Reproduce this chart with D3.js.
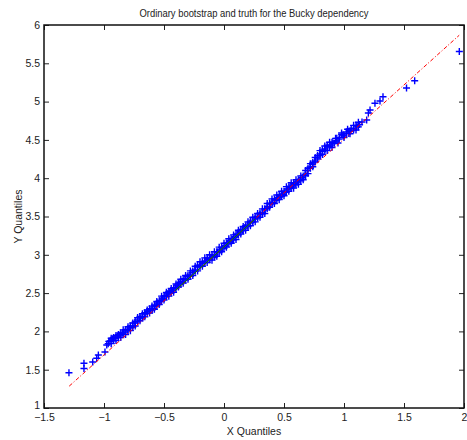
<!DOCTYPE html>
<html>
<head>
<meta charset="utf-8">
<script src="https://cdn.jsdelivr.net/npm/d3@7"></script>
<style>
body { margin: 0; background: #fff; }
text { font-family: "Liberation Sans", Arial, sans-serif; fill: #222; }
</style>
</head>
<body>
<svg id="chart" width="467" height="440"></svg>
<script>
//params
var W = 467;
var H = 440;
var LEFT = 44, RIGHT = 464, TOP = 25, BOTTOM = 408;
var TICK_LEN = 5;
var PLUS_R = 3.5;

var TITLE = "Ordinary bootstrap and truth for the Bucky dependency";
var X_LABEL = "X Quantiles";
var Y_LABEL = "Y Quantiles";

var xTicks = [-1.5, -1, -0.5, 0, 0.5, 1, 1.5, 2];
var yTicks = [1, 1.5, 2, 2.5, 3, 3.5, 4, 4.5, 5, 5.5, 6];

// quantile pairs (sorted), centre of the band + the tails
var qx = [-1.292, -1.167, -1.167, -1.094, -1.061, -1.047, -0.992,
	-0.977, -0.965, -0.95, -0.93, -0.908, -0.888, -0.867, -0.846, -0.825, -0.804,
	-0.783, -0.762, -0.742, -0.721, -0.700, -0.679, -0.658, -0.638, -0.617, -0.596,
	-0.575, -0.554, -0.533, -0.512, -0.492, -0.471, -0.450, -0.429, -0.408, -0.388,
	-0.367, -0.346, -0.325, -0.304, -0.283, -0.262, -0.242, -0.221, -0.200, -0.179,
	-0.158, -0.138, -0.117, -0.096, -0.075, -0.054, -0.033, -0.012, 0.008, 0.029,
	0.050, 0.071, 0.092, 0.112, 0.133, 0.154, 0.175, 0.196, 0.217, 0.238,
	0.258, 0.279, 0.300, 0.321, 0.342, 0.362, 0.383, 0.404, 0.425, 0.446,
	0.467, 0.488, 0.508, 0.529, 0.550, 0.571, 0.592, 0.612, 0.633, 0.654,
	0.675, 0.696, 0.717, 0.738, 0.758, 0.779, 0.800, 0.821, 0.842, 0.862,
	0.883, 0.908, 0.933, 0.962, 0.992, 1.02, 1.050, 1.08, 1.108, 1.13, 1.150,
	1.189, 1.203, 1.217, 1.258, 1.300, 1.325, 1.521, 1.589, 1.961];
var qy = [1.461, 1.516, 1.584, 1.600, 1.649, 1.692, 1.731,
	1.822, 1.84, 1.875, 1.90, 1.914, 1.94, 1.953, 1.98, 1.992, 2.025,
	2.044, 2.07, 2.110, 2.15, 2.175, 2.195, 2.227, 2.26, 2.279, 2.30,
	2.332, 2.37, 2.403, 2.425, 2.462, 2.49, 2.514, 2.535, 2.567, 2.605,
	2.632, 2.65, 2.684, 2.715, 2.736, 2.765, 2.802, 2.84, 2.867, 2.89,
	2.919, 2.945, 2.958, 2.972, 2.997, 3.035, 3.063, 3.085, 3.115, 3.15,
	3.180, 3.20, 3.232, 3.27, 3.298, 3.32, 3.350, 3.39, 3.415, 3.44,
	3.467, 3.50, 3.526, 3.55, 3.585, 3.63, 3.663, 3.685, 3.715, 3.745,
	3.768, 3.79, 3.820, 3.86, 3.885, 3.90, 3.924, 3.95, 3.977, 4.005,
	4.042, 4.10, 4.146, 4.18, 4.225, 4.275, 4.316, 4.35, 4.381, 4.41,
	4.433, 4.46, 4.486, 4.53, 4.564, 4.585, 4.616, 4.65, 4.681, 4.70, 4.734,
	4.76, 4.851, 4.890, 4.978, 5.008, 5.064, 5.178, 5.273, 5.655];

// upper edge of the dense band
var upX = [-0.96, -0.92, -0.88, -0.84, -0.80, -0.76, -0.72, -0.68, -0.64, -0.60,
	-0.56, -0.52, -0.48, -0.44, -0.40, -0.36, -0.32, -0.28, -0.24, -0.20,
	-0.16, -0.12, -0.08, -0.04, 0.00, 0.04, 0.08, 0.12, 0.16, 0.20,
	0.24, 0.28, 0.32, 0.36, 0.40, 0.44, 0.48, 0.52, 0.56, 0.60,
	0.64, 0.68, 0.72, 0.76, 0.80, 0.84, 0.88, 0.93, 0.98, 1.03, 1.08, 1.12];
var upY = [1.87, 1.92, 1.96, 2.02, 2.06, 2.11, 2.18, 2.23, 2.28, 2.33,
	2.39, 2.46, 2.51, 2.56, 2.62, 2.68, 2.73, 2.79, 2.85, 2.91,
	2.96, 3.00, 3.04, 3.10, 3.15, 3.21, 3.26, 3.32, 3.37, 3.43,
	3.49, 3.54, 3.60, 3.67, 3.73, 3.78, 3.83, 3.89, 3.94, 3.98,
	4.03, 4.10, 4.19, 4.27, 4.36, 4.42, 4.47, 4.52, 4.59, 4.64, 4.69, 4.73];

// between centre and upper edge
var umX = [-0.94, -0.90, -0.86, -0.82, -0.78, -0.74, -0.70, -0.66, -0.62, -0.58,
	-0.54, -0.50, -0.46, -0.42, -0.38, -0.34, -0.30, -0.26, -0.22, -0.18,
	-0.14, -0.10, -0.06, -0.02, 0.02, 0.06, 0.10, 0.14, 0.18, 0.22,
	0.26, 0.30, 0.34, 0.38, 0.42, 0.46, 0.50, 0.54, 0.58, 0.62,
	0.66, 0.70, 0.74, 0.78, 0.82, 0.86, 0.90, 0.94, 0.98, 1.02, 1.06, 1.10];
var umY = [1.91, 1.945, 1.98, 2.02, 2.07, 2.13, 2.195, 2.245, 2.295, 2.345,
	2.40, 2.46, 2.52, 2.57, 2.63, 2.685, 2.73, 2.79, 2.86, 2.91,
	2.96, 2.99, 3.04, 3.095, 3.155, 3.21, 3.265, 3.325, 3.38, 3.44,
	3.49, 3.545, 3.60, 3.675, 3.73, 3.78, 3.83, 3.89, 3.93, 3.98,
	4.03, 4.13, 4.205, 4.295, 4.37, 4.43, 4.47, 4.52, 4.57, 4.605, 4.65, 4.69];

// between centre and lower edge
var lmX = [-0.92, -0.88, -0.84, -0.80, -0.76, -0.72, -0.68, -0.64, -0.60, -0.56,
	-0.52, -0.48, -0.44, -0.40, -0.36, -0.32, -0.28, -0.24, -0.20, -0.16,
	-0.12, -0.08, -0.04, 0.00, 0.04, 0.08, 0.12, 0.16, 0.20, 0.24,
	0.28, 0.32, 0.36, 0.40, 0.44, 0.48, 0.52, 0.56, 0.60, 0.64,
	0.68, 0.72, 0.76, 0.80, 0.84, 0.88, 0.92, 0.96, 1.00, 1.04, 1.08, 1.12];
var lmY = [1.88, 1.925, 1.965, 2.01, 2.055, 2.125, 2.175, 2.235, 2.28, 2.335,
	2.395, 2.455, 2.505, 2.56, 2.62, 2.67, 2.72, 2.785, 2.845, 2.895,
	2.935, 2.97, 3.03, 3.085, 3.145, 3.195, 3.26, 3.315, 3.37, 3.425,
	3.48, 3.535, 3.605, 3.665, 3.715, 3.765, 3.82, 3.875, 3.915, 3.965,
	4.035, 4.13, 4.21, 4.295, 4.36, 4.41, 4.455, 4.51, 4.55, 4.585, 4.63, 4.67];

// lower edge of the dense band
var loX = [-0.94, -0.90, -0.86, -0.82, -0.78, -0.74, -0.70, -0.66, -0.62, -0.58,
	-0.54, -0.50, -0.46, -0.42, -0.38, -0.34, -0.30, -0.26, -0.22, -0.18,
	-0.14, -0.10, -0.06, -0.02, 0.02, 0.06, 0.10, 0.14, 0.18, 0.22,
	0.26, 0.30, 0.34, 0.38, 0.42, 0.46, 0.50, 0.54, 0.58, 0.62,
	0.66, 0.70, 0.74, 0.78, 0.82, 0.86, 0.90, 0.95, 1.00, 1.05, 1.10];
var loY = [1.84, 1.88, 1.92, 1.96, 2.01, 2.07, 2.14, 2.19, 2.24, 2.29,
	2.35, 2.41, 2.46, 2.51, 2.58, 2.63, 2.68, 2.73, 2.79, 2.85,
	2.90, 2.93, 2.98, 3.04, 3.10, 3.15, 3.20, 3.27, 3.32, 3.38,
	3.43, 3.49, 3.54, 3.62, 3.67, 3.72, 3.77, 3.83, 3.87, 3.92,
	3.98, 4.06, 4.15, 4.25, 4.31, 4.36, 4.40, 4.46, 4.53, 4.58, 4.63];

// quartile line (solid) and its extension (dash-dot)
var quartX = [-0.408, 0.258];
var quartY = [2.532, 3.466];
var extX = [-1.29, 1.96];
var extY = [1.285, 5.866];

var svg = d3.select("#chart");
var x = d3.scaleLinear().domain([-1.5, 2]).range([LEFT, RIGHT]);
var y = d3.scaleLinear().domain([1, 6]).range([BOTTOM, TOP]);

function fmt(v)
{
	return String(v).replace("-", "\u2212");
}

function pairs(xs, ys)
{
	return xs.map(function(v, i){ return [v, ys[i]]; });
}

// axes, ticks point inward
var xAxis = d3.axisBottom(x).tickValues(xTicks).tickSizeInner(-TICK_LEN).tickSizeOuter(0).tickPadding(6).tickFormat(fmt);
var yAxis = d3.axisLeft(y).tickValues(yTicks).tickSizeInner(-TICK_LEN).tickSizeOuter(0).tickPadding(4).tickFormat(fmt);
var xTop = d3.axisTop(x).tickValues(xTicks).tickSizeInner(-TICK_LEN).tickSizeOuter(0).tickFormat("");
var yRight = d3.axisRight(y).tickValues(yTicks).tickSizeInner(-TICK_LEN).tickSizeOuter(0).tickFormat("");

function style_axis(g)
{
	g.select(".domain").remove();
	g.selectAll(".tick line").attr("stroke", "#222").attr("stroke-width", 1);
	g.selectAll(".tick text").attr("font-size", 10.5).attr("fill", "#222")
		.style("font-family", "'Liberation Sans', Arial, sans-serif");
}

svg.append("g").attr("transform", "translate(0," + BOTTOM + ")").call(xAxis).call(style_axis);
var gy = svg.append("g").attr("transform", "translate(" + LEFT + ",0)").call(yAxis).call(style_axis);
svg.append("g").attr("transform", "translate(0," + TOP + ")").call(xTop).call(style_axis);
svg.append("g").attr("transform", "translate(" + RIGHT + ",0)").call(yRight).call(style_axis);

// lowest y label sits a bit higher so it clears the -1.5 below it
gy.selectAll(".tick text").filter(function(d){ return d == 1; }).attr("y", -3);

// data markers
var pts = pairs(qx, qy).concat(pairs(upX, upY), pairs(umX, umY), pairs(lmX, lmY), pairs(loX, loY));
svg.append("g").selectAll("path").data(pts).enter().append("path")
	.attr("d", function(d){
		var cx = x(d[0]), cy = y(d[1]);
		return "M" + (cx - PLUS_R) + "," + cy + "H" + (cx + PLUS_R) +
			"M" + cx + "," + (cy - PLUS_R) + "V" + (cy + PLUS_R);
	})
	.attr("stroke", "#0000ff")
	.attr("stroke-width", 1.4)
	.attr("fill", "none");

var line = d3.line().x(function(d){ return x(d[0]); }).y(function(d){ return y(d[1]); });

svg.append("path")
	.datum(pairs(extX, extY))
	.attr("d", line)
	.attr("stroke", "#ff0000")
	.attr("stroke-width", 1)
	.attr("stroke-dasharray", "4,2,1,2")
	.attr("fill", "none");

svg.append("path")
	.datum(pairs(quartX, quartY))
	.attr("d", line)
	.attr("stroke", "#008000")
	.attr("stroke-width", 1)
	.attr("fill", "none");

// box
svg.append("rect")
	.attr("x", LEFT).attr("y", TOP)
	.attr("width", RIGHT - LEFT).attr("height", BOTTOM - TOP)
	.attr("fill", "none").attr("stroke", "#111").attr("stroke-width", 1.5);

// labels
svg.append("text")
	.attr("x", (LEFT + RIGHT) / 2).attr("y", 17)
	.attr("text-anchor", "middle").attr("font-size", 11)
	.attr("textLength", 229).attr("lengthAdjust", "spacingAndGlyphs")
	.text(TITLE);

svg.append("text")
	.attr("x", (LEFT + RIGHT) / 2).attr("y", 435)
	.attr("text-anchor", "middle").attr("font-size", 10.5)
	.text(X_LABEL);

svg.append("text")
	.attr("transform", "translate(22," + ((TOP + BOTTOM) / 2) + ") rotate(-90)")
	.attr("text-anchor", "middle").attr("font-size", 10.5)
	.text(Y_LABEL);
</script>
</body>
</html>
